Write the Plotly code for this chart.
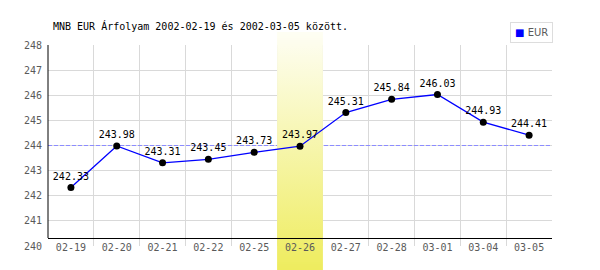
import plotly.graph_objects as go

# ---------------- data ----------------
categories = ["02-19", "02-20", "02-21", "02-22", "02-25", "02-26",
              "02-27", "02-28", "03-01", "03-04", "03-05"]
eur_values = [242.33, 243.98, 243.31, 243.45, 243.73, 243.97,
              245.31, 245.84, 246.03, 244.93, 244.41]
y_ticks = [240, 241, 242, 243, 244, 245, 246, 247, 248]
reference_level = 244
highlight_category = "02-26"
series_name = "EUR"
title_text = "MNB EUR Árfolyam 2002-02-19 és 2002-03-05 között."

# ---------------- layout constants (pixels) ----------------
W, H = 600, 270
PL, PR, PT, PB = 48, 552, 45, 246          # plot area
AXIS_PX = 238                               # x-axis line
BAND_TOP, BAND_BOT = 32, 270                # highlight band extent
C_TOP = (254, 254, 244)
C_BOT = (238, 236, 94)

MONO = "DejaVu Sans Mono"
GRID = "#d9d9d9"
TICK = "#5a5a5a"

n = len(categories)
idx = list(range(n))
ymin, ymax = y_ticks[0], y_ticks[-1]
plot_h = PB - PT


def band_color(py):
    f = (py - BAND_TOP) / (BAND_BOT - BAND_TOP)
    c = [round(a + (b - a) * f) for a, b in zip(C_TOP, C_BOT)]
    return "rgb(%d,%d,%d)" % tuple(c)


def paper_y(py):
    return (PB - py) / plot_h


hi = categories.index(highlight_category)

fig = go.Figure()

# reference dashed line
fig.add_trace(go.Scatter(
    x=[-0.5, n - 0.5], y=[reference_level, reference_level], mode="lines",
    line=dict(color="#8c8cff", width=1, dash="4px,2px"),
    hoverinfo="skip", showlegend=False))

# highlight band (inside the plot area)
fig.add_trace(go.Scatter(
    x=[hi - 0.5, hi + 0.5, hi + 0.5, hi - 0.5, hi - 0.5],
    y=[ymin, ymin, ymax, ymax, ymin],
    mode="lines", line=dict(width=0), fill="toself",
    fillgradient=dict(type="vertical",
                      colorscale=[[0, band_color(PB)], [1, band_color(PT)]]),
    hoverinfo="skip", showlegend=False))

# main series
fig.add_trace(go.Scatter(
    x=idx, y=eur_values, mode="lines+markers+text",
    text=[f"{v:.2f}" for v in eur_values], textposition="top center",
    textfont=dict(family=MONO, size=10, color="#000000"),
    line=dict(color="#0000ff", width=1.3),
    marker=dict(color="#000000", size=7),
    cliponaxis=False, name=series_name, showlegend=False))

shapes = []
# band extensions outside the plot area (above and below)
x0p = hi / n
x1p = (hi + 1) / n
step = 2
for py in list(range(BAND_TOP, PT, step)) + list(range(PB, BAND_BOT, step)):
    end = BAND_BOT if py >= PB else PT
    shapes.append(dict(type="rect", xref="paper", yref="paper",
                       x0=x0p, x1=x1p, y0=paper_y(py), y1=paper_y(min(py + step, end)),
                       fillcolor=band_color(py + step / 2), line=dict(width=0),
                       layer="below"))
# y axis black line
shapes.append(dict(type="line", xref="paper", yref="paper", x0=0, x1=0,
                   y0=paper_y(AXIS_PX), y1=1, line=dict(color="#000000", width=1),
                   layer="above"))

fig.update_layout(
    width=W, height=H,
    margin=dict(l=PL, r=W - PR, t=PT, b=H - PB, pad=0),
    paper_bgcolor="#ffffff", plot_bgcolor="#ffffff",
    showlegend=False,
    title=dict(text=title_text, x=53 / W, xanchor="left", xref="container",
               y=1 - 26 / H, yanchor="middle", yref="container",
               font=dict(family=MONO, size=10, color="#000000")),
    xaxis=dict(range=[-0.5, n - 0.5], tickmode="array", tickvals=idx,
               ticktext=categories, showgrid=False, zeroline=False,
               anchor="free", position=paper_y(AXIS_PX),
               showline=True, linecolor="#000000", linewidth=1,
               ticks="", tickfont=dict(family=MONO, size=10, color=TICK),
               minor=dict(tickmode="array",
                          tickvals=[i - 0.5 for i in range(n + 1)],
                          showgrid=True, gridcolor=GRID, gridwidth=1, ticks="")),
    yaxis=dict(range=[ymin, ymax], tickmode="array", tickvals=y_ticks,
               showgrid=True, gridcolor=GRID, gridwidth=1, zeroline=False,
               showline=False, ticks="", ticklabelstandoff=5,
               tickfont=dict(family=MONO, size=10, color=TICK)),
    shapes=shapes,
    annotations=[dict(
        xref="paper", yref="paper", x=(553 - PL) / (PR - PL), y=paper_y(22),
        xanchor="right", yanchor="top", showarrow=False,
        text="<span style='color:#0000ff'>■</span> " + series_name,
        font=dict(family="DejaVu Sans", size=10, color=TICK),
        bordercolor="#dddddd", borderwidth=1, borderpad=4, bgcolor="#ffffff")],
)

fig.write_html("out.html")
